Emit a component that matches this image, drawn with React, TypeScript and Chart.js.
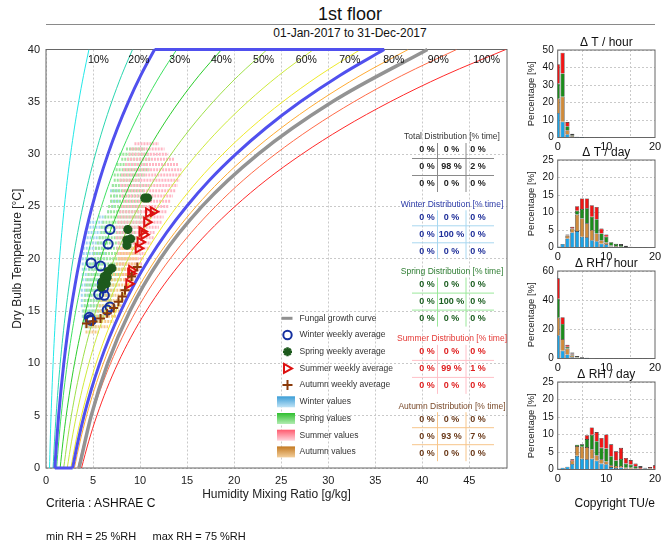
import React, { useEffect, useRef } from "react";
import { Chart, registerables } from "chart.js";
Chart.register(...registerables);

const FONT = "'Liberation Sans', Arial, Helvetica, sans-serif";

// ---------- psychrometric base data ----------
const tempGrid = [0, 2.5, 5, 7.5, 10, 12.5, 15, 17.5, 20, 22.5, 25, 27.5, 30, 32.5, 35, 37.5, 40];
const psatKPa = [0.6112, 0.7317, 0.8726, 1.0373, 1.2282, 1.4494, 1.7056, 2.0003, 2.3389, 2.7266, 3.169, 3.6701, 4.2455, 4.8941, 5.6267, 6.4508, 7.3814];
const rhLevels = [10, 20, 30, 40, 50, 60, 70, 80, 90, 100];
const criteriaRH = [25, 75];
const fungalT = [0, 5, 10, 15, 20, 25, 30, 35, 40];
const fungalRH = [93, 89, 86, 84, 83, 83, 83.5, 84, 84];
const P_ATM = 101.325;

// ---------- weekly averages ----------
const winterWeekX = [6.8, 6.6, 4.8, 5.8, 6.0, 6.1, 5.6, 6.2, 6.8, 6.5, 4.6, 4.8, 4.7];
const winterWeekT = [22.8, 21.4, 19.6, 19.3, 17.7, 17.2, 16.6, 16.5, 15.4, 15.1, 14.4, 14.1, 14.2];
const springWeekX = [10.5, 10.8, 8.7, 8.6, 9.0, 8.6, 7.0, 6.6, 6.2, 6.5, 6.0, 6.4, 5.9];
const springWeekT = [25.8, 25.8, 22.8, 21.8, 21.9, 21.3, 19.1, 18.8, 18.3, 18.2, 17.8, 17.6, 17.3];
const summerWeekX = [11.4, 10.9, 10.7, 10.2, 10.4, 10.0, 9.8, 9.1, 9.0, 8.8];
const summerWeekT = [24.5, 24.4, 23.5, 22.6, 22.3, 21.6, 21.0, 18.9, 18.6, 17.6];
const autumnWeekX = [9.7, 9.1, 8.4, 8.1, 7.7, 7.2, 6.5, 5.8, 5.0, 4.3];
const autumnWeekT = [19.2, 18.3, 17.0, 16.4, 15.9, 15.3, 14.8, 14.3, 14.0, 13.8];

// ---------- hourly values (rows of dots: temperature, min and max mixing ratio) ----------
const winterRowT = [27, 26.5, 26, 25.5, 25, 24.5, 24, 23.5, 23, 22.5, 22, 21.5, 21, 20.5, 20, 19.5, 19, 18.5, 18, 17.5, 17, 16.5, 16, 15.5, 15, 14.5, 14, 13.5];
const winterRowMin = [7.0, 6.8, 7.2, 6.9, 7.0, 6.5, 5.6, 4.6, 4.3, 4.1, 4.0, 3.9, 3.9, 3.9, 3.8, 3.8, 3.8, 3.8, 3.8, 3.7, 3.7, 3.7, 3.7, 3.7, 3.8, 3.8, 3.9, 4.1];
const winterRowMax = [7.6, 7.9, 7.4, 7.8, 7.3, 6.9, 6.4, 6.2, 6.4, 6.5, 6.5, 6.6, 6.6, 6.5, 6.5, 6.4, 6.5, 6.5, 6.6, 6.6, 6.7, 6.6, 6.6, 6.5, 6.3, 5.9, 5.4, 4.9];

const springRowT = [30.5, 30, 29.5, 29, 28.5, 28, 27.5, 27, 26.5, 26, 25.5, 25, 24.5, 24, 23.5, 23, 22.5, 22, 21.5, 21, 20.5, 20, 19.5, 19, 18.5, 18, 17.5, 17, 16.5, 16, 15.5, 15, 14.5, 14, 13.5];
const springRowMin = [8.5, 7.8, 8.0, 7.5, 7.4, 7.2, 7.2, 7.0, 7.0, 6.8, 6.8, 6.6, 6.5, 6.2, 6.0, 5.8, 5.8, 5.6, 5.4, 5.2, 5.0, 4.8, 4.6, 4.5, 4.4, 4.3, 4.2, 4.2, 4.1, 4.0, 4.0, 3.9, 3.9, 4.0, 4.2];
const springRowMax = [10.5, 11.0, 11.2, 10.8, 11.0, 10.5, 10.0, 11.0, 10.5, 11.4, 11.0, 10.5, 10.2, 11.0, 10.2, 10.0, 9.6, 9.8, 9.5, 9.5, 9.0, 9.0, 8.6, 8.5, 8.0, 8.0, 7.6, 7.4, 7.2, 7.0, 6.8, 6.5, 6.2, 5.8, 5.4];

const summerRowT = [31, 30.5, 30, 29.5, 29, 28.5, 28, 27.5, 27, 26.5, 26, 25.5, 25, 24.5, 24, 23.5, 23, 22.5, 22, 21.5, 21, 20.5, 20, 19.5, 19, 18.5, 18, 17.5];
const summerRowMin = [9.4, 9.0, 8.8, 8.6, 8.4, 8.2, 8.0, 7.8, 7.9, 8.1, 8.0, 8.2, 8.0, 7.8, 7.6, 7.6, 7.4, 7.5, 7.4, 7.6, 7.5, 7.6, 7.8, 7.8, 8.0, 8.0, 8.2, 8.4];
const summerRowMax = [12.0, 12.6, 13.0, 13.6, 14.1, 14.4, 14.4, 14.2, 14.0, 13.8, 13.5, 13.2, 13.0, 12.8, 12.5, 12.3, 12.0, 11.6, 11.5, 11.2, 11.0, 10.6, 10.4, 10.2, 10.0, 9.8, 9.6, 9.4];

const autumnRowT = [21, 20.5, 20, 19.5, 19, 18.5, 18, 17.5, 17, 16.5, 16, 15.5, 15, 14.5, 14, 13.5, 13];
const autumnRowMin = [8.0, 7.8, 7.6, 7.4, 7.0, 6.8, 6.6, 6.4, 6.2, 6.0, 5.8, 5.6, 5.4, 5.0, 4.6, 4.2, 4.2];
const autumnRowMax = [9.6, 9.8, 9.8, 9.6, 9.8, 9.6, 9.4, 9.2, 9.0, 8.8, 8.6, 8.4, 8.0, 7.6, 7.2, 6.6, 5.6];

// ---------- distribution tables [% time] ----------
const totalDist = [[0, 0, 0], [0, 98, 2], [0, 0, 0]];
const winterDist = [[0, 0, 0], [0, 100, 0], [0, 0, 0]];
const springDist = [[0, 0, 0], [0, 100, 0], [0, 0, 0]];
const summerDist = [[0, 0, 0], [0, 99, 1], [0, 0, 0]];
const autumnDist = [[0, 0, 0], [0, 93, 7], [0, 0, 0]];

// ---------- histograms ----------
const binCenters = [0, 1, 2, 3, 4, 5, 6, 7, 8, 9, 10, 11, 12, 13, 14, 15, 16, 17, 18, 19, 20];

const dtHourWinter = [14, 9, 1.9, 0.3, 0.05, 0.05, 0, 0, 0, 0, 0, 0, 0, 0, 0, 0, 0, 0, 0, 0, 0];
const dtHourAutumn = [8.2, 14.3, 2.3, 0.4, 0.05, 0, 0, 0, 0, 0, 0, 0, 0, 0, 0, 0, 0, 0, 0, 0, 0];
const dtHourSpring = [8.6, 13.3, 2.3, 0.6, 0.05, 0, 0, 0, 0, 0, 0, 0, 0, 0, 0, 0, 0, 0, 0, 0, 0];
const dtHourSummer = [11.1, 11.9, 2.3, 0.2, 0, 0, 0, 0, 0, 0, 0, 0, 0, 0, 0, 0, 0, 0, 0, 0, 0];
const dtHourOther = [0, 0, 0, 0.6, 0.3, 0.2, 0.15, 0.1, 0.1, 0.1, 0, 0, 0, 0, 0, 0, 0, 0, 0, 0, 0];

const dtDayWinter = [0.3, 1.0, 2.6, 4.3, 4.7, 3.1, 2.9, 2.1, 1.8, 1.1, 0.9, 0.3, 0.2, 0.1, 0, 0, 0, 0, 0, 0, 0];
const dtDayAutumn = [0, 0, 0.7, 1.1, 4.7, 5.2, 4.0, 2.9, 2.2, 1.0, 0.5, 0.3, 0.2, 0.1, 0, 0, 0, 0, 0, 0, 0];
const dtDaySpring = [0, 0, 0.1, 0, 1.1, 2.7, 4.3, 3.8, 4.1, 1.9, 1.7, 0.9, 0.6, 0.5, 0.1, 0, 0, 0, 0, 0, 0];
const dtDaySummer = [0, 0, 0.3, 0.5, 1.3, 3.0, 2.8, 3.3, 3.5, 1.4, 0.6, 0.1, 0, 0, 0, 0, 0, 0, 0, 0, 0];
const dtDayOther = [0, 0, 0, 0, 0, 0, 0, 0, 0, 0, 0, 0, 0.1, 0.3, 0.4, 0.2, 0.1, 0.1, 0.05, 0, 0];

const drhHourWinter = [16, 5.3, 2.8, 0.8, 0.3, 0.1, 0.05, 0, 0, 0, 0, 0, 0, 0, 0, 0, 0, 0, 0, 0, 0];
const drhHourAutumn = [12, 8, 4, 1.2, 0.3, 0.1, 0.05, 0, 0, 0, 0, 0, 0, 0, 0, 0, 0, 0, 0, 0, 0];
const drhHourSpring = [13, 10.4, 1.2, 0.8, 0.2, 0.1, 0, 0, 0, 0, 0, 0, 0, 0, 0, 0, 0, 0, 0, 0, 0];
const drhHourSummer = [14, 4.6, 1.4, 0.6, 0.2, 0.1, 0, 0, 0, 0, 0, 0, 0, 0, 0, 0, 0, 0, 0, 0, 0];
const drhHourOther = [0, 0, 0, 0.7, 0.8, 0.4, 0.35, 0.3, 0.2, 0.2, 0.2, 0.15, 0.15, 0.1, 0.1, 0.1, 0.1, 0.1, 0.1, 0, 0];

const drhDayWinter = [0.3, 0.5, 0.8, 1.6, 3.9, 3.1, 2.9, 3.1, 2.5, 1.7, 1.5, 0.7, 0.4, 0.6, 0.2, 0.2, 0.2, 0, 0.3, 0, 0];
const drhDayAutumn = [0, 0, 0, 0.9, 2.8, 3.4, 3.5, 2.7, 1.6, 1.2, 0.8, 0.5, 0.6, 0.4, 0.3, 0.4, 0.2, 0, 0, 0, 0];
const drhDaySpring = [0, 0, 0, 0, 0.4, 0.7, 2.3, 4.1, 4.0, 3.3, 3.7, 2.6, 1.6, 2.0, 1.2, 0.8, 0.5, 0.2, 0, 0.3, 0.2];
const drhDaySummer = [0, 0, 0, 0.4, 0, 0, 1.1, 2.1, 2.6, 2.8, 4.0, 3.4, 2.6, 3.2, 1.6, 1.3, 0.8, 0.5, 0, 0.4, 1.0];
const drhDayOther = [0, 0, 0, 0, 0, 0, 0, 0, 0, 0, 0, 0, 0, 0, 0, 0, 0, 0.3, 0.2, 0, 0];

// ---------- helpers ----------
function mixingRatio(rh: number, ps: number) {
  const pv = (rh / 100) * ps;
  return (622 * pv) / (P_ATM - pv);
}
function rhCurve(rh: number) {
  return tempGrid.map((t, i) => ({ x: mixingRatio(rh, psatKPa[i]), y: t }));
}
function rows(ts: number[], mins: number[], maxs: number[]) {
  const out: any[] = [];
  ts.forEach((t, i) => {
    out.push({ x: mins[i], y: t }, { x: maxs[i], y: t }, { x: NaN, y: NaN });
  });
  return out;
}
function pts(xs: number[], ys: number[]) {
  return xs.map((x, i) => ({ x, y: ys[i] }));
}

const rhColors = ["#22e8e8", "#2ad6b0", "#3ee060", "#2ccc2c", "#9ee04a", "#cdea3c", "#eeea2a", "#ffaa33", "#ff6a48", "#ff2a2a"];

const frame = {
  id: "frame",
  beforeDatasetsDraw(chart: any) {
    const { ctx, chartArea: a } = chart;
    ctx.save();
    ctx.strokeStyle = "#666";
    ctx.lineWidth = 1;
    ctx.strokeRect(a.left, a.top, a.right - a.left, a.bottom - a.top);
    ctx.restore();
  },
};

const noPad = (s: any) => {
  s.paddingTop = 0;
  s.paddingBottom = 0;
  s.paddingLeft = 0;
  s.paddingRight = 0;
};

const OY = 40; // main canvas top in page coords

const tableDefs = [
  { title: "Total Distribution [% time]", values: totalDist, titleColor: "#333", textColor: "#222", lineColor: "#8a8a8a" },
  { title: "Winter Distribution [% time]", values: winterDist, titleColor: "#2b3aa8", textColor: "#1f2f9a", lineColor: "#a8d8f0" },
  { title: "Spring Distribution [% time]", values: springDist, titleColor: "#2e7d32", textColor: "#1b5e20", lineColor: "#9be89b" },
  { title: "Summer Distribution [% time]", values: summerDist, titleColor: "#e53935", textColor: "#e02020", lineColor: "#ffc0c8" },
  { title: "Autumn Distribution [% time]", values: autumnDist, titleColor: "#7a4a2a", textColor: "#6b3a1a", lineColor: "#f7c58a" },
];

const overlay = {
  id: "overlay",
  afterDatasetsDraw(chart: any) {
    const { ctx } = chart;
    const xs = chart.scales.x;
    const ys = chart.scales.y;
    ctx.save();
    // RH labels
    ctx.font = `10.5px ${FONT}`;
    ctx.fillStyle = "#111";
    ctx.textBaseline = "middle";
    ctx.textAlign = "left";
    const n = tempGrid.length;
    rhLevels.forEach((rh) => {
      const c = rhCurve(rh);
      const a = c[n - 2], b = c[n - 1];
      const f = (38.6 - a.y) / (b.y - a.y);
      const xv = a.x + (b.x - a.x) * f;
      ctx.fillText(`${rh}%`, xs.getPixelForValue(xv) + 2, ys.getPixelForValue(38.95));
    });

    // Tables
    const colX = [427, 451.5, 478];
    tableDefs.forEach((t, i) => {
      const ty = 137 + 67.3 * i - OY;
      ctx.textAlign = "center";
      ctx.textBaseline = "middle";
      ctx.font = `8.5px ${FONT}`;
      ctx.fillStyle = t.titleColor;
      ctx.fillText(t.title, 452, ty);
      ctx.strokeStyle = t.lineColor;
      ctx.lineWidth = 1;
      ctx.beginPath();
      [437.5, 466].forEach((vx) => {
        ctx.moveTo(vx, ty + 6);
        ctx.lineTo(vx, ty + 55);
      });
      [ty + 21.5, ty + 38.5].forEach((hy) => {
        ctx.moveTo(412, hy);
        ctx.lineTo(494, hy);
      });
      ctx.stroke();
      t.values.forEach((row, r) => {
        row.forEach((v, cIdx) => {
          const bold = r === 1 && cIdx === 1;
          ctx.font = `${bold ? "bold" : "600"} 9px ${FONT}`;
          ctx.fillStyle = t.textColor;
          ctx.fillText(`${v} %`, colX[cIdx], ty + 13 + 17 * r);
        });
      });
    });

    // Legend
    const lx = 287.5;
    const tx = 299.5;
    const labels = [
      "Fungal growth curve",
      "Winter weekly average",
      "Spring weekly average",
      "Summer weekly average",
      "Autumn weekly average",
      "Winter values",
      "Spring values",
      "Summer values",
      "Autumn values",
    ];
    const patchCols = [
      ["#3b9dd6", "#bfe3f6"],
      ["#2fbf2f", "#b2ecb2"],
      ["#ff5a6e", "#ffd4dc"],
      ["#c47a22", "#f3cf9c"],
    ];
    labels.forEach((lab, i) => {
      const y = 318.3 + 16.7 * i - OY;
      ctx.save();
      if (i === 0) {
        ctx.strokeStyle = "#909090";
        ctx.lineWidth = 3;
        ctx.beginPath();
        ctx.moveTo(lx - 6, y);
        ctx.lineTo(lx + 5, y);
        ctx.stroke();
      } else if (i === 1) {
        ctx.strokeStyle = "#1530a0";
        ctx.lineWidth = 2;
        ctx.beginPath();
        ctx.arc(lx, y, 4.2, 0, Math.PI * 2);
        ctx.stroke();
      } else if (i === 2) {
        ctx.strokeStyle = "#1d5a1d";
        ctx.lineWidth = 2.5;
        ctx.beginPath();
        for (let k = 0; k < 4; k++) {
          const ang = (k * Math.PI) / 4;
          ctx.moveTo(lx - 4.5 * Math.cos(ang), y - 4.5 * Math.sin(ang));
          ctx.lineTo(lx + 4.5 * Math.cos(ang), y + 4.5 * Math.sin(ang));
        }
        ctx.stroke();
      } else if (i === 3) {
        ctx.strokeStyle = "#dd1111";
        ctx.lineWidth = 2;
        ctx.beginPath();
        ctx.moveTo(lx - 3.5, y - 4.5);
        ctx.lineTo(lx + 4.5, y);
        ctx.lineTo(lx - 3.5, y + 4.5);
        ctx.closePath();
        ctx.stroke();
      } else if (i === 4) {
        ctx.strokeStyle = "#8b3a0a";
        ctx.lineWidth = 2;
        ctx.beginPath();
        ctx.moveTo(lx - 5, y);
        ctx.lineTo(lx + 5, y);
        ctx.moveTo(lx, y - 5);
        ctx.lineTo(lx, y + 5);
        ctx.stroke();
      } else {
        const pc = patchCols[i - 5];
        const g = ctx.createLinearGradient(0, y - 5.5, 0, y + 5.5);
        g.addColorStop(0, pc[0]);
        g.addColorStop(1, pc[1]);
        ctx.fillStyle = g;
        ctx.fillRect(277, y - 5.5, 18, 11);
      }
      ctx.restore();
      ctx.font = `8.5px ${FONT}`;
      ctx.fillStyle = "#333";
      ctx.textAlign = "left";
      ctx.textBaseline = "middle";
      ctx.fillText(lab, tx, y);
    });
    ctx.restore();
  },
};

function MainChart() {
  const ref = useRef<HTMLCanvasElement>(null);
  useEffect(() => {
    const datasets: any[] = [];
    const line = (data: any[], color: string, width: number, order: number, extra: any = {}) => ({
      data,
      showLine: true,
      borderColor: color,
      borderWidth: width,
      pointRadius: 0,
      cubicInterpolationMode: "monotone",
      order,
      ...extra,
    });
    // weekly averages
    datasets.push({
      data: pts(autumnWeekX, autumnWeekT), pointStyle: "cross", pointRadius: 4.5, borderColor: "#8b3a0a", borderWidth: 2, backgroundColor: "rgba(0,0,0,0)", order: 0,
    });
    datasets.push({
      data: pts(summerWeekX, summerWeekT), pointStyle: "triangle", rotation: 90, pointRadius: 5, borderColor: "#dd1111", borderWidth: 2, backgroundColor: "rgba(0,0,0,0)", order: 1,
    });
    datasets.push({
      data: pts(springWeekX, springWeekT), pointStyle: "star", pointRadius: 4.5, borderColor: "#1d5a1d", borderWidth: 3, backgroundColor: "#1d5a1d", order: 2,
    });
    datasets.push({
      data: pts(winterWeekX, winterWeekT), pointStyle: "circle", pointRadius: 4.5, borderColor: "#1530a0", borderWidth: 2, backgroundColor: "rgba(0,0,0,0)", order: 3,
    });
    // criteria and fungal curve
    const c25 = rhCurve(criteriaRH[0]);
    const c75 = rhCurve(criteriaRH[1]);
    const last = tempGrid.length - 1;
    datasets.push(line(c25, "#5050ee", 3, 5, { clip: 4 }));
    datasets.push(line(c75, "#5050ee", 3, 5, { clip: 4 }));
    datasets.push(line([c25[last], c75[last]], "#5050ee", 3, 5, { clip: 4 }));
    datasets.push(line([c25[0], c75[0]], "#5050ee", 3, 5, { clip: 4 }));
    const fungal = fungalT.map((t, i) => ({ x: mixingRatio(fungalRH[i], psatKPa[tempGrid.indexOf(t)]), y: t }));
    datasets.push(line(fungal, "#939393", 3.5, 5, { clip: 4 }));
    rhLevels.forEach((rh, i) => datasets.push(line(rhCurve(rh), rhColors[i], 1, 6)));
    // hourly value clouds
    const cloud = (data: any[], color: string, order: number) => ({
      data, showLine: true, borderColor: color, borderWidth: 3, borderDash: [2, 1], pointRadius: 0, spanGaps: false, order,
    });
    datasets.push(cloud(rows(autumnRowT, autumnRowMin, autumnRowMax), "#f6c98a", 10));
    datasets.push(cloud(rows(summerRowT, summerRowMin, summerRowMax), "#ffb6c4", 11));
    datasets.push(cloud(rows(springRowT, springRowMin, springRowMax), "#9fe79f", 12));
    datasets.push(cloud(rows(winterRowT, winterRowMin, winterRowMax), "#a6d6f2", 13));

    const chart = new Chart(ref.current!, {
      type: "scatter",
      data: { datasets },
      options: {
        animation: false,
        responsive: true,
        maintainAspectRatio: false,
        events: [],
        layout: { padding: { left: 0, right: 13, top: 9.5, bottom: 0 } },
        plugins: { legend: { display: false }, tooltip: { enabled: false } },
        scales: {
          x: {
            type: "linear",
            min: 0,
            max: 49,
            afterFit: (s: any) => { s.height = 38; noPad(s); },
            ticks: { stepSize: 5, includeBounds: false, font: { family: FONT, size: 11 }, color: "#222", padding: 6, maxRotation: 0 },
            grid: { color: "#c9c9c9", drawTicks: false, lineWidth: 1 },
            border: { display: false, dash: [2, 2] },
            title: { display: true, text: "Humidity Mixing Ratio [g/kg]", font: { family: FONT, size: 12 }, color: "#222", padding: { top: 0, bottom: 4 } },
          },
          y: {
            type: "linear",
            min: 0,
            max: 40,
            afterFit: (s: any) => { s.width = 46; noPad(s); },
            ticks: { stepSize: 5, font: { family: FONT, size: 11 }, color: "#222", padding: 6 },
            grid: { color: "#c9c9c9", drawTicks: false, lineWidth: 1 },
            border: { display: false, dash: [2, 2] },
            title: { display: true, text: "Dry Bulb Temperature [°C]", font: { family: FONT, size: 12 }, color: "#222", padding: { top: 10, bottom: 0 } },
          },
        },
      } as any,
      plugins: [frame, overlay],
    });
    return () => chart.destroy();
  }, []);
  return (
    <div style={{ position: "absolute", left: 0, top: OY, width: 520, height: 466 }}>
      <canvas ref={ref} />
    </div>
  );
}

const HIST_COLORS = ["#1ca3e6", "#cf8b3b", "#1c8c1c", "#f01515", "#111111"];

function Hist(props: { plotTop: number; title: string; ymax: number; ystep: number; series: number[][] }) {
  const ref = useRef<HTMLCanvasElement>(null);
  const { plotTop, title, ymax, ystep, series } = props;
  useEffect(() => {
    const names = ["Winter", "Autumn", "Spring", "Summer", "Other"];
    const datasets = series.map((arr, k) => ({
      label: names[k],
      data: binCenters.map((b, i) => ({ x: b, y: arr[i] === 0 ? null : arr[i] })),
      backgroundColor: HIST_COLORS[k],
      borderColor: "#1a1a1a",
      borderWidth: 0.6,
      barPercentage: 0.85,
      categoryPercentage: 1,
    }));
    const titlePlugin = {
      id: "htitle",
      afterDraw(chart: any) {
        const { ctx, chartArea: a } = chart;
        ctx.save();
        ctx.font = `12px ${FONT}`;
        ctx.fillStyle = "#111";
        ctx.textAlign = "center";
        ctx.textBaseline = "middle";
        ctx.fillText(title, (a.left + a.right) / 2, a.top - 7);
        ctx.restore();
      },
    };
    const chart = new Chart(ref.current!, {
      type: "bar",
      data: { datasets },
      options: {
        animation: false,
        responsive: true,
        maintainAspectRatio: false,
        events: [],
        layout: { padding: { left: 0, right: 13, top: 20, bottom: 0 } },
        plugins: { legend: { display: false }, tooltip: { enabled: false } },
        scales: {
          x: {
            type: "linear",
            stacked: true,
            offset: false,
            min: 0,
            max: 20,
            afterFit: (s: any) => { s.height = 18; noPad(s); },
            ticks: { stepSize: 10, font: { family: FONT, size: 11 }, color: "#111", padding: 3, maxRotation: 0 },
            grid: { color: "#c9c9c9", drawTicks: false },
            border: { display: false, dash: [2, 2] },
          },
          y: {
            stacked: true,
            min: 0,
            max: ymax,
            afterFit: (s: any) => { s.width = 37.7; noPad(s); },
            ticks: { stepSize: ystep, font: { family: FONT, size: 10 }, color: "#111", padding: 4 },
            grid: { color: "#c9c9c9", drawTicks: false },
            border: { display: false, dash: [2, 2] },
            title: { display: true, text: "Percentage [%]", font: { family: FONT, size: 9.5 }, color: "#222", padding: { top: 6, bottom: 0 } },
          },
        },
      } as any,
      plugins: [frame, titlePlugin],
    });
    return () => chart.destroy();
  }, []);
  return (
    <div style={{ position: "absolute", left: 520, top: plotTop - 20, width: 148, height: 125.5 }}>
      <canvas ref={ref} />
    </div>
  );
}

const txt = (s: any) => ({ position: "absolute" as const, whiteSpace: "nowrap" as const, fontFamily: FONT, color: "#111", ...s });

export default function App() {
  return (
    <div style={{ position: "fixed", left: 0, top: 0, width: 668, height: 544, background: "#fff", overflow: "hidden" }}>
      <div style={txt({ left: 350, top: 4.7, fontSize: 18, lineHeight: "18px", transform: "translateX(-50%)" })}>1st floor</div>
      <div style={{ position: "absolute", left: 46, top: 24, width: 609, height: 1, background: "#8a8a8a" }} />
      <div style={txt({ left: 350, top: 27, fontSize: 12, lineHeight: "12px", transform: "translateX(-50%)" })}>01-Jan-2017 to 31-Dec-2017</div>
      <MainChart />
      <Hist plotTop={49.5} title="Δ T / hour" ymax={50} ystep={10} series={[dtHourWinter, dtHourAutumn, dtHourSpring, dtHourSummer, dtHourOther]} />
      <Hist plotTop={159.5} title="Δ T / day" ymax={25} ystep={5} series={[dtDayWinter, dtDayAutumn, dtDaySpring, dtDaySummer, dtDayOther]} />
      <Hist plotTop={270.5} title="Δ RH / hour" ymax={60} ystep={20} series={[drhHourWinter, drhHourAutumn, drhHourSpring, drhHourSummer, drhHourOther]} />
      <Hist plotTop={381.5} title="Δ RH / day" ymax={25} ystep={5} series={[drhDayWinter, drhDayAutumn, drhDaySpring, drhDaySummer, drhDayOther]} />
      <div style={txt({ left: 46, top: 497, fontSize: 12, lineHeight: "12px" })}>Criteria : ASHRAE C</div>
      <div style={txt({ left: 46, top: 530.5, fontSize: 11, lineHeight: "11px" })}>min RH = 25 %RH</div>
      <div style={txt({ left: 152.5, top: 530.5, fontSize: 11, lineHeight: "11px" })}>max RH = 75 %RH</div>
      <div style={txt({ right: 13, top: 497, fontSize: 12, lineHeight: "12px" })}>Copyright TU/e</div>
    </div>
  );
}
